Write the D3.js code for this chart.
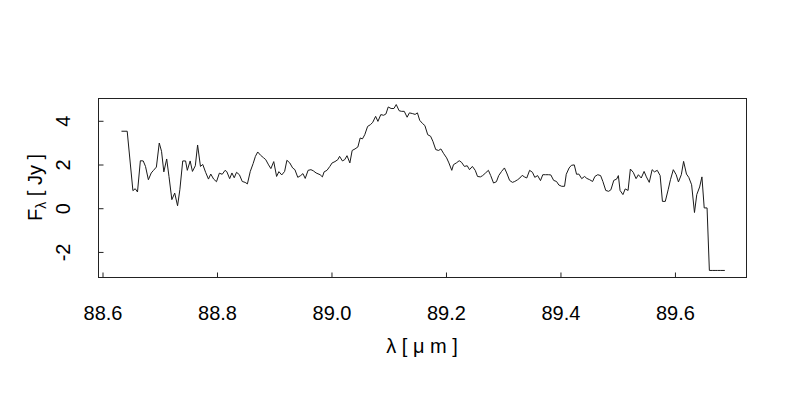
<!DOCTYPE html>
<html>
<head>
<meta charset="utf-8">
<script src="https://cdn.jsdelivr.net/npm/d3@7"></script>
<style>
  html, body { margin: 0; padding: 0; background: #fff; }
  svg { display: block; font-family: "Liberation Sans", Arial, Helvetica, sans-serif; }
</style>
</head>
<body>
<svg id="chart" width="800" height="400"></svg>
<script>
const wavelength = [
  88.634, 88.644, 88.654, 88.658, 88.662, 88.667, 88.672, 88.676, 88.681, 88.686,
  88.690, 88.695, 88.700, 88.704, 88.708, 88.713, 88.717, 88.722, 88.727, 88.732,
  88.736, 88.741, 88.746, 88.749, 88.754, 88.758, 88.763, 88.767, 88.772, 88.776,
  88.781, 88.786, 88.790, 88.795, 88.800, 88.805, 88.810, 88.815, 88.818, 88.823,
  88.827, 88.831, 88.835, 88.840, 88.845, 88.850, 88.854, 88.859, 88.864, 88.868,
  88.872, 88.877, 88.882, 88.886, 88.891, 88.895, 88.900, 88.905, 88.909, 88.914,
  88.919, 88.923, 88.928, 88.933, 88.937, 88.942, 88.947, 88.951, 88.955, 88.960,
  88.965, 88.969, 88.974, 88.981, 88.985, 88.988, 88.993, 88.998, 89.002, 89.007,
  89.012, 89.015, 89.020, 89.024, 89.028, 89.033, 89.037, 89.042, 89.047, 89.051,
  89.055, 89.059, 89.064, 89.069, 89.073, 89.078, 89.082, 89.087, 89.092, 89.096,
  89.100, 89.105, 89.110, 89.114, 89.119, 89.123, 89.128, 89.133, 89.137, 89.142,
  89.147, 89.151, 89.155, 89.160, 89.164, 89.169, 89.174, 89.178, 89.183, 89.188,
  89.192, 89.197, 89.202, 89.206, 89.211, 89.214, 89.219, 89.224, 89.228, 89.233,
  89.238, 89.242, 89.247, 89.252, 89.256, 89.261, 89.265, 89.270, 89.275, 89.279,
  89.284, 89.289, 89.293, 89.298, 89.303, 89.307, 89.312, 89.317, 89.321, 89.326,
  89.330, 89.334, 89.338, 89.342, 89.347, 89.352, 89.356, 89.361, 89.366, 89.370,
  89.375, 89.380, 89.384, 89.389, 89.394, 89.398, 89.403, 89.408, 89.411, 89.416,
  89.420, 89.425, 89.429, 89.433, 89.438, 89.443, 89.447, 89.452, 89.457, 89.461,
  89.466, 89.471, 89.475, 89.480, 89.485, 89.489, 89.494, 89.499, 89.502, 89.505,
  89.510, 89.514, 89.519, 89.523, 89.528, 89.533, 89.537, 89.542, 89.547, 89.551,
  89.556, 89.561, 89.565, 89.570, 89.575, 89.579, 89.584, 89.589, 89.593, 89.598,
  89.603, 89.607, 89.612, 89.616, 89.621, 89.625, 89.630, 89.635, 89.639, 89.644,
  89.648, 89.652, 89.657, 89.661, 89.666, 89.671, 89.675, 89.680, 89.688
];
const flux = [
  3.50, 3.50, 0.78, 0.87, 0.72, 2.15, 2.14, 1.89, 1.28, 1.59,
  1.71, 1.86, 2.96, 2.58, 1.64, 2.23, 1.43, 0.37, 0.67, 0.09,
  0.82, 2.14, 2.14, 1.71, 2.14, 1.66, 1.92, 2.87, 1.89, 1.98,
  1.62, 1.31, 1.54, 1.31, 1.19, 1.58, 1.53, 1.71, 1.65, 1.33,
  1.59, 1.37, 1.62, 1.51, 1.20, 1.16, 1.09, 1.66, 2.02, 2.35,
  2.55, 2.40, 2.29, 2.20, 1.96, 1.79, 2.11, 1.43, 1.65, 1.50,
  1.66, 2.17, 2.05, 1.82, 1.74, 1.39, 1.47, 1.56, 1.34, 1.71,
  1.74, 1.69, 1.59, 1.51, 1.41, 1.64, 1.71, 1.89, 2.05, 2.11,
  2.20, 2.35, 2.14, 2.20, 2.38, 2.05, 2.62, 2.69, 2.78, 3.19,
  3.15, 3.34, 3.72, 3.80, 3.91, 4.18, 3.95, 4.26, 4.23, 4.29,
  4.61, 4.54, 4.54, 4.72, 4.44, 4.41, 4.41, 4.14, 4.34, 4.31,
  4.27, 4.34, 4.00, 3.85, 3.76, 3.34, 3.27, 3.04, 2.66, 2.62,
  2.69, 2.47, 2.28, 2.05, 1.71, 1.97, 2.05, 2.15, 2.08, 1.89,
  1.92, 1.74, 1.89, 1.71, 1.43, 1.41, 1.47, 1.59, 1.71, 1.47,
  1.13, 1.19, 1.47, 1.66, 1.82, 1.59, 1.25, 1.16, 1.20, 1.28,
  1.36, 1.48, 1.41, 1.36, 1.71, 1.62, 1.39, 1.47, 1.24, 1.51,
  1.51, 1.51, 1.50, 1.25, 1.20, 1.04, 0.98, 0.98, 1.53, 1.82,
  1.94, 1.96, 1.53, 1.54, 1.33, 1.43, 1.34, 1.28, 1.20, 1.43,
  1.51, 1.47, 1.20, 0.79, 0.75, 0.82, 1.25, 1.31, 1.47, 0.79,
  0.60, 0.86, 0.79, 1.77, 1.62, 1.33, 1.51, 1.36, 1.66, 1.41,
  1.16, 1.74, 1.64, 1.71, 1.47, 0.29, 0.29, 0.82, 1.28, 1.74,
  1.51, 1.18, 1.51, 2.12, 1.54, 1.39, 1.05, -0.22, 0.60, 0.95,
  1.41, -0.01, -0.01, -2.87, -2.87, -2.87, -2.87, -2.87, -2.87
];
const xTicks = [88.6, 88.8, 89.0, 89.2, 89.4, 89.6];
const yTicks = [-2, 0, 2, 4];
const xDomain = [88.593, 89.725];
const yDomain = [-3.17, 5.02];

const box = { left: 98, right: 746, top: 98, bottom: 277 };
const svg = d3.select("#chart");

const x = d3.scaleLinear().domain(xDomain).range([box.left, box.right]);
const y = d3.scaleLinear().domain(yDomain).range([box.bottom, box.top]);

const n = Math.min(wavelength.length, flux.length);
const pts = d3.range(n).map(i => [wavelength[i], flux[i]]);

// data line
svg.append("path")
  .datum(pts)
  .attr("fill", "none")
  .attr("stroke", "#1a1a1a")
  .attr("stroke-width", 1)
  .attr("stroke-linejoin", "round")
  .attr("d", d3.line().x(d => x(d[0])).y(d => y(d[1])));

// plot box
svg.append("rect")
  .attr("x", box.left + 0.5).attr("y", box.top + 0.5)
  .attr("width", box.right - box.left).attr("height", box.bottom - box.top)
  .attr("fill", "none").attr("stroke", "#222").attr("stroke-width", 1);

// x axis (ticks inward)
const xAxis = d3.axisBottom(x).tickValues(xTicks).tickFormat(d3.format(".1f"))
  .tickSizeInner(-5).tickSizeOuter(0).tickPadding(0);
const gx = svg.append("g").attr("transform", `translate(0.5,${box.bottom + 0.5})`).call(xAxis);
gx.select(".domain").remove();
gx.selectAll(".tick line").attr("stroke", "#222");
gx.selectAll(".tick text")
  .attr("y", 42).attr("dy", null)
  .attr("fill", "#000").attr("font-size", 20)
  .attr("font-family", "'Liberation Sans', Arial, sans-serif");

// y axis (ticks inward, labels rotated)
const yAxis = d3.axisLeft(y).tickValues(yTicks).tickFormat(d3.format("d"))
  .tickSizeInner(-5).tickSizeOuter(0).tickPadding(0);
const gy = svg.append("g").attr("transform", `translate(${box.left + 0.5},0.5)`).call(yAxis);
gy.select(".domain").remove();
gy.selectAll(".tick line").attr("stroke", "#222");
gy.selectAll(".tick text")
  .attr("x", null).attr("dy", null)
  .attr("text-anchor", "middle")
  .attr("transform", "translate(-29,0) rotate(-90)")
  .attr("fill", "#000").attr("font-size", 20)
  .attr("font-family", "'Liberation Sans', Arial, sans-serif")
  .text(d => d < 0 ? "-" + Math.abs(d) : String(d));

// x axis title
svg.append("text")
  .attr("x", (box.left + box.right) / 2)
  .attr("y", 353)
  .attr("text-anchor", "middle")
  .attr("font-size", 20)
  .attr("fill", "#000")
  .text("λ [ μ m ]");

// y axis title
const yt = svg.append("text")
  .attr("transform", `translate(42,${(box.top + box.bottom) / 2}) rotate(-90)`)
  .attr("text-anchor", "middle")
  .attr("font-size", 20)
  .attr("fill", "#000");
yt.append("tspan").text("F");
yt.append("tspan").attr("font-size", 14).attr("dy", 4).text("λ");
yt.append("tspan").attr("dy", -4).text(" [ Jy ]");
</script>
</body>
</html>
